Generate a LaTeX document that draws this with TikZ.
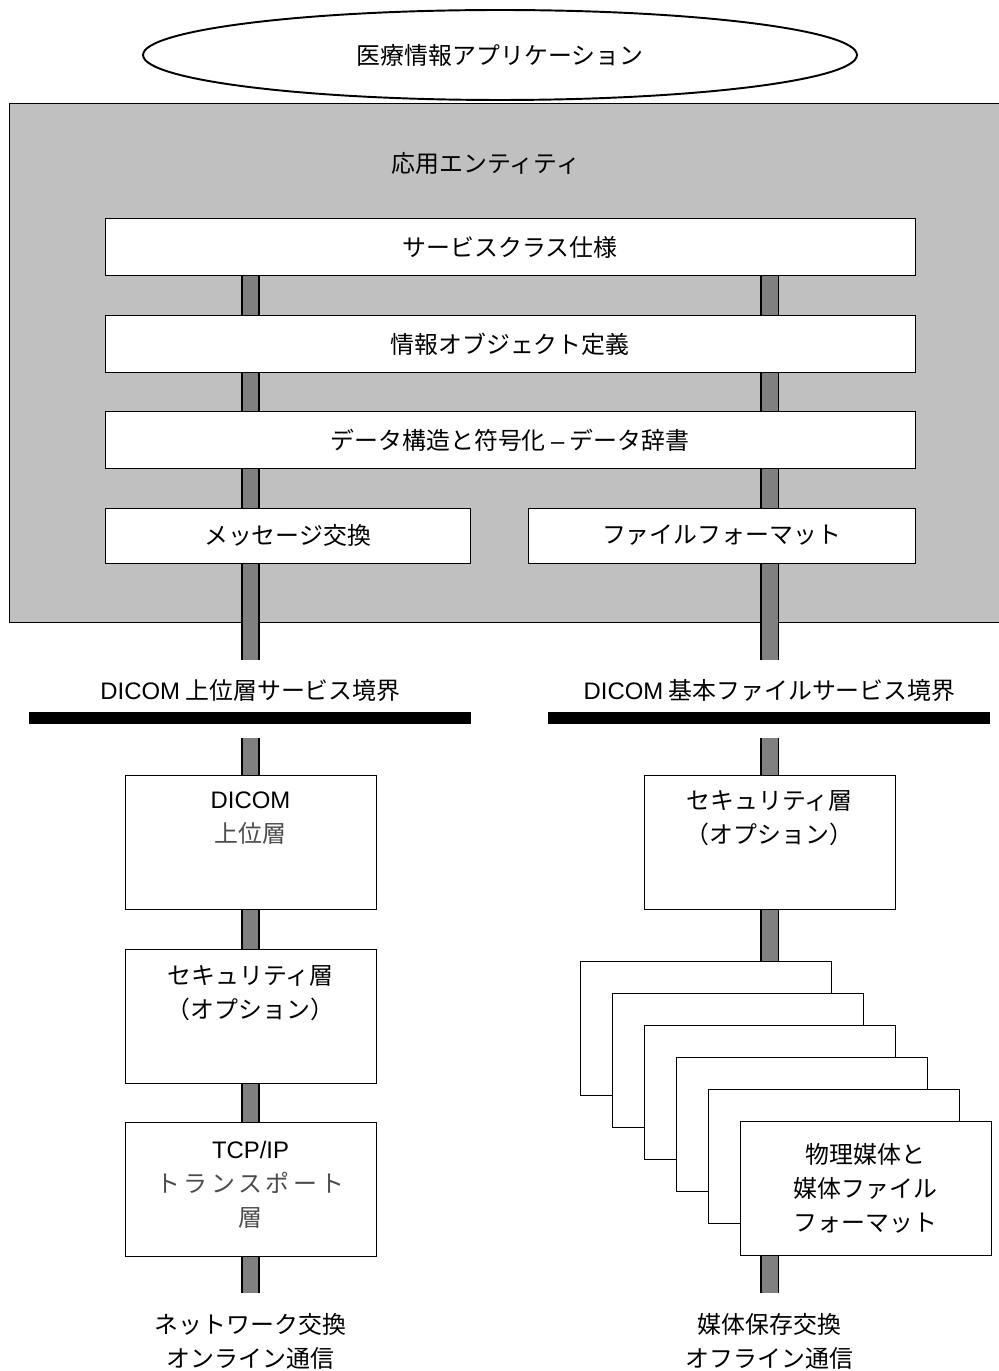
\documentclass[tikz,border=0pt]{standalone}
\usepackage{fontspec}
\setmainfont{Liberation Sans}
\newfontfamily\jp{Noto Sans CJK JP}
\newfontfamily\lat{Liberation Sans}
\usetikzlibrary{positioning,shapes.geometric}

\definecolor{panelgray}{RGB}{192,192,192}
\definecolor{bargray}{RGB}{128,128,128}
\newcommand\labelsize{\fontsize{13.6pt}{19.2pt}\selectfont}
\newcommand\softjp{\color{black!70}\jp}

\pgfdeclarelayer{back}
\pgfdeclarelayer{mid}
\pgfsetlayers{back,mid,main}

\tikzset{
    layerbox/.style={draw, fill=white, inner sep=0pt},
    widebox/.style={layerbox, minimum width=16.2cm, minimum height=1.14cm},
    stackbox/.style={layerbox, minimum width=5.02cm, minimum height=2.68cm},
    bar/.style={line width=1.1pt, double=bargray, double distance=9.1pt},
    boundary/.style={line width=0.24cm},
    panel/.style={draw, fill=panelgray}
}

\begin{document}
\begin{tikzpicture}[x=0.02cm, y=-0.02cm, line width=1.1pt,
    every node/.style={font=\labelsize\jp, align=center}]
    % the two columns (network / media)
    \def\colL{250.5}
    \def\colR{769.5}

    \useasboundingbox (0,0) rectangle (999,1371);

    % application on top
    \node[draw, ellipse, minimum width=14.28cm, minimum height=1.8cm, inner sep=0pt]
        (app) at (500,55) {医療情報アプリケーション};

    % application entity panel
    \begin{pgfonlayer}{back}
        \draw[panel] (1000,103) -- (9,103) -- (9,622) -- (1000,622);
    \end{pgfonlayer}
    \node (ae) at (486,163) {応用エンティティ};

    % common layers
    \node[widebox] (svc) at (510,247) {サービスクラス仕様};
    \node[widebox] (iod) at (510,344) {情報オブジェクト定義};
    \node[widebox] (enc) at (510,440) {データ構造と符号化 {\lat –} データ辞書};
    \node[layerbox, minimum width=7.3cm, minimum height=1.1cm]
        (msg) at (287.5,535.5) {メッセージ交換};
    \node[layerbox, minimum width=7.74cm, minimum height=1.1cm]
        (file) at (721.5,535.5) {ファイルフォーマット};

    % service boundaries
    \coordinate (upL) at (\colL,660);
    \coordinate (upR) at (\colR,660);
    \node (ulb) at (\colL,690) {{\lat DICOM} 上位層サービス境界};
    \node (bfb) at (\colR,690) {{\lat DICOM} 基本ファイルサービス境界};
    \draw[boundary] (29,718) -- (471,718);
    \draw[boundary] (548,718) -- (990,718);
    \coordinate (dnL) at (\colL,738);
    \coordinate (dnR) at (\colR,738);

    % network stack
    \node[stackbox] (ul) at (\colL,842.5) {};
    \node (ul-t) at (\colL,818) {{\lat DICOM}\\{\softjp 上位層}};
    \node[stackbox] (secL) at (\colL,1016.5) {};
    \node (secL-t) at (\colL,993) {セキュリティ層\\（オプション）};
    \node[stackbox] (tcp) at (\colL,1189) {};
    \node (tcp-t) at (\colL,1185) {{\lat TCP/IP}\\{\softjp\addfontfeature{LetterSpace=15}トランスポート}\\{\softjp 層}};

    % media stack
    \node[stackbox] (secR) at (\colR,842.5) {};
    \node (secR-t) at (\colR,818) {セキュリティ層\\（オプション）};
    \foreach \i in {0,...,5}
        \node[stackbox] (m\i) at (705.5+32*\i,1028.5+32*\i) {};
    \node (m-t) at (865.5,1188.5) {物理媒体と\\媒体ファイル\\フォーマット};

    % bottom ends
    \coordinate (endL) at (\colL,1293);
    \coordinate (endR) at (\colR,1293);
    \node (netx) at (\colL,1341.5) {ネットワーク交換\\オンライン通信};
    \node (medx) at (\colR,1341.5) {媒体保存交換\\オフライン通信};

    % bars joining the layers
    \begin{pgfonlayer}{mid}
        \draw[bar] (svc.south -| upL) -- (upL);
        \draw[bar] (svc.south -| upR) -- (upR);
        \draw[bar] (dnL) -- (ul.north);
        \draw[bar] (ul.south) -- (secL.north);
        \draw[bar] (secL.south) -- (tcp.north);
        \draw[bar] (tcp.south) -- (endL);
        \draw[bar] (dnR) -- (secR.north);
        \draw[bar] (secR.south) -- (m0.north -| dnR);
        \draw[bar] (m5.south -| endR) -- (endR);
    \end{pgfonlayer}
\end{tikzpicture}
\end{document}
